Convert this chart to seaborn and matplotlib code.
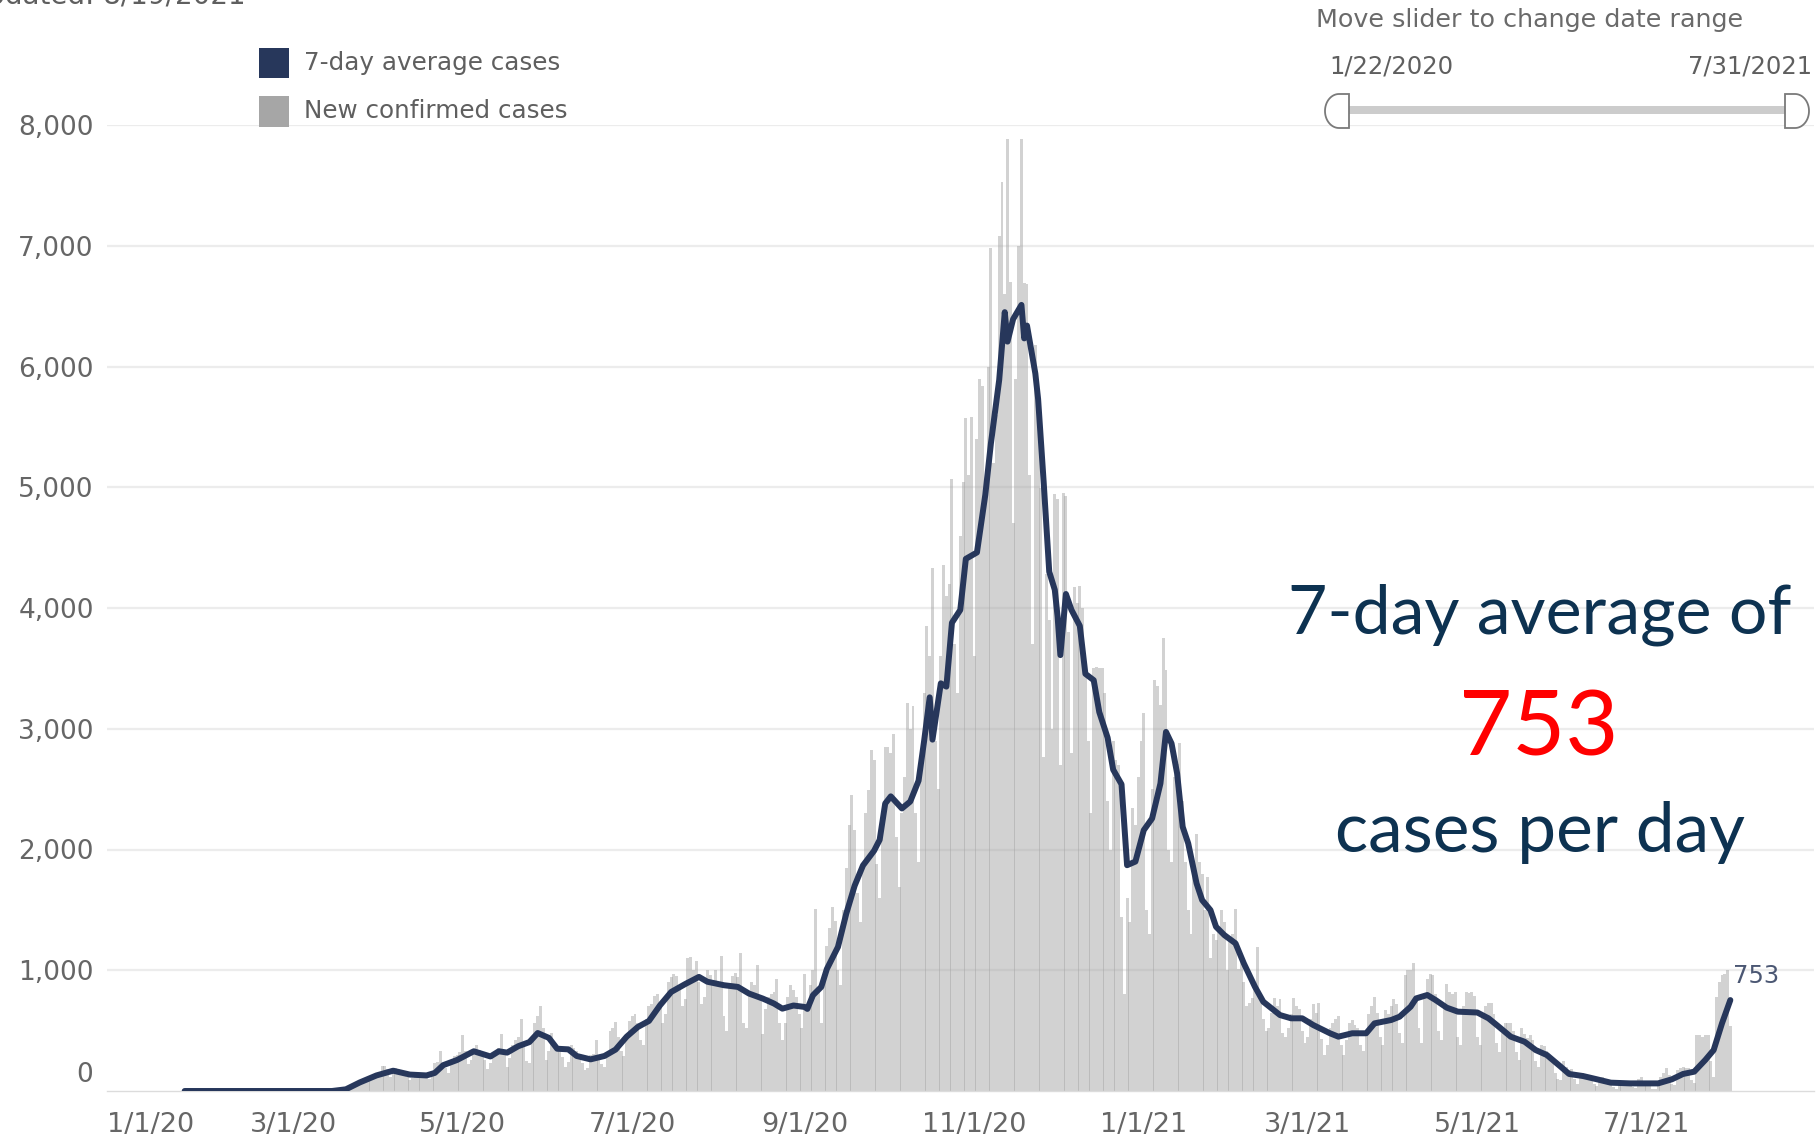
import numpy as np
import pandas as pd
import matplotlib
matplotlib.use("Agg")
import matplotlib.pyplot as plt
import matplotlib.dates as mdates
import matplotlib.patches as mpatches
from matplotlib.transforms import ScaledTranslation
import seaborn as sns

sns.set_theme(style="white")
plt.rcParams["font.family"] = ["DejaVu Sans"]

# ---------------------------------------------------------------- data
first_day = "2020-01-22"
last_day = "2021-07-31"

# New confirmed cases per day, month by month
cases_2020_01 = [0, 0, 0, 0, 0, 0, 0, 0, 0, 0]  # Jan 22-31
cases_2020_02 = [0, 0, 0, 0, 0, 0, 0, 0, 0, 0, 0, 0, 0, 0, 0,
                 0, 0, 0, 0, 0, 0, 0, 0, 0, 0, 0, 0, 0, 0]
cases_2020_03 = [0, 0, 0, 0, 0, 0, 0, 0, 0, 0, 0, 0, 0, 0, 0,
                 3, 5, 8, 15, 25, 35, 40, 55, 65, 80, 90, 105, 115, 100, 120, 140]
cases_2020_04 = [160, 210, 205, 180, 120, 150, 190, 185, 170, 140, 120, 90, 110, 140, 150,
                 135, 145, 120, 100, 160, 230, 240, 330, 210, 190, 150, 240, 290, 300, 320]
cases_2020_05 = [460, 330, 220, 260, 350, 380, 340, 300, 260, 180, 230, 300, 330, 360, 470,
                 300, 200, 270, 380, 420, 450, 600, 380, 250, 230, 420, 560, 620, 700, 520, 260]
cases_2020_06 = [330, 480, 400, 360, 330, 280, 200, 240, 380, 360, 330, 290, 230, 170, 190,
                 300, 310, 420, 300, 220, 200, 280, 500, 520, 570, 450, 330, 290, 420, 580]
cases_2020_07 = [620, 640, 560, 420, 380, 600, 700, 720, 790, 800, 700, 560, 640, 900, 940,
                 970, 950, 840, 700, 760, 1100, 1110, 1000, 1080, 900, 720, 780, 1000, 960, 920, 1000]
cases_2020_08 = [900, 1120, 620, 500, 880, 950, 980, 940, 1140, 560, 520, 820, 900, 880, 1040,
                 760, 470, 680, 780, 800, 820, 930, 560, 420, 560, 780, 880, 840, 780, 640, 520]
cases_2020_09 = [970, 720, 880, 1000, 1510, 820, 560, 900, 1200, 1350, 1520, 1410, 1000, 880, 1500,
                 1850, 2200, 2450, 2160, 1640, 1400, 1900, 2300, 2490, 2820, 2740, 1880, 1600, 2300, 2850]
cases_2020_10 = [2850, 2800, 2960, 2100, 1690, 2300, 2600, 3210, 3000, 3190, 2300, 1900, 2700, 3300, 3850,
                 3600, 4330, 2900, 2500, 3600, 4360, 4100, 4200, 5070, 3700, 3300, 4600, 5040, 5570, 5100, 5580]
cases_2020_11 = [3600, 5400, 5900, 5840, 5000, 6000, 6980, 5200, 5600, 7080, 7530, 6600, 7880, 6700, 4700,
                 5900, 7000, 7880, 6690, 6680, 5100, 3700, 6180, 5730, 4990, 2770, 4280, 3900, 3000, 4940]
cases_2020_12 = [4900, 2700, 4950, 4930, 3800, 2800, 4170, 4040, 4180, 4000, 3500, 2900, 2300, 3500, 3510,
                 3500, 3500, 3300, 2400, 2000, 2900, 2740, 2700, 1440, 800, 1600, 1400, 2340, 2200, 2600, 2900]
cases_2021_01 = [3130, 1500, 1300, 2500, 3400, 3350, 3200, 3750, 3490, 2000, 1900, 2600, 2710, 2880, 2400,
                 1900, 1500, 1300, 1800, 2130, 1900, 1800, 1500, 1770, 1100, 1300, 1250, 1340, 1500, 1400, 1000]
cases_2021_02 = [1270, 1300, 1510, 1010, 1100, 900, 700, 730, 770, 850, 1190, 770, 600, 500,
                 520, 650, 770, 700, 760, 480, 450, 520, 640, 770, 700, 680, 500, 400]
cases_2021_03 = [450, 600, 720, 650, 730, 430, 300, 380, 520, 560, 600, 620, 380, 300, 420,
                 560, 590, 550, 520, 380, 330, 500, 640, 700, 780, 650, 450, 380, 670, 640, 700]
cases_2021_04 = [760, 720, 480, 400, 960, 1000, 1000, 1060, 760, 520, 400, 800, 930, 970, 960,
                 800, 500, 420, 700, 890, 820, 800, 820, 450, 380, 700, 820, 810, 820, 790]
cases_2021_05 = [450, 380, 650, 700, 730, 730, 640, 400, 320, 480, 560, 560, 560, 500, 320,
                 260, 520, 470, 440, 460, 420, 250, 200, 380, 370, 330, 300, 280, 150, 100, 90]
cases_2021_06 = [250, 200, 170, 180, 100, 60, 130, 150, 140, 130, 120, 60, 40, 110, 120,
                 90, 80, 70, 30, 20, 90, 80, 70, 75, 70, 30, 25, 100, 120, 80]
cases_2021_07 = [80, 70, 20, 15, 40, 120, 150, 190, 130, 60, 50, 170, 190, 195, 190,
                 190, 90, 70, 460, 460, 450, 465, 460, 250, 120, 780, 900, 960, 970, 1000, 541]

# 7-day average of new cases
avg_dates = [
    "2020-01-22", "2020-03-15", "2020-03-20", "2020-03-25", "2020-03-31", "2020-04-06",
    "2020-04-12", "2020-04-18", "2020-04-21", "2020-04-24", "2020-04-29", "2020-05-05",
    "2020-05-11", "2020-05-14", "2020-05-17", "2020-05-21", "2020-05-25", "2020-05-28",
    "2020-06-01", "2020-06-04", "2020-06-08", "2020-06-11", "2020-06-16", "2020-06-21",
    "2020-06-25", "2020-06-29", "2020-07-03", "2020-07-07", "2020-07-11", "2020-07-15",
    "2020-07-20", "2020-07-25", "2020-07-28", "2020-08-03", "2020-08-08", "2020-08-12",
    "2020-08-17", "2020-08-21", "2020-08-24", "2020-08-28", "2020-09-01", "2020-09-02",
    "2020-09-04", "2020-09-07", "2020-09-09", "2020-09-13", "2020-09-16", "2020-09-19",
    "2020-09-22", "2020-09-26", "2020-09-28", "2020-09-30", "2020-10-02", "2020-10-06",
    "2020-10-09", "2020-10-12", "2020-10-14", "2020-10-16", "2020-10-17", "2020-10-20",
    "2020-10-22", "2020-10-24", "2020-10-27", "2020-10-29", "2020-11-02", "2020-11-05",
    "2020-11-07", "2020-11-10", "2020-11-12", "2020-11-13", "2020-11-15", "2020-11-18",
    "2020-11-19", "2020-11-20", "2020-11-23", "2020-11-24", "2020-11-26", "2020-11-28",
    "2020-11-30", "2020-12-01", "2020-12-02", "2020-12-04", "2020-12-06", "2020-12-09",
    "2020-12-11", "2020-12-14", "2020-12-16", "2020-12-19", "2020-12-21", "2020-12-24",
    "2020-12-26", "2020-12-29", "2021-01-01", "2021-01-04", "2021-01-07", "2021-01-09",
    "2021-01-11", "2021-01-13", "2021-01-15", "2021-01-17", "2021-01-20", "2021-01-22",
    "2021-01-25", "2021-01-27", "2021-01-30", "2021-02-03", "2021-02-06", "2021-02-10",
    "2021-02-13", "2021-02-19", "2021-02-23", "2021-02-27", "2021-03-03", "2021-03-09",
    "2021-03-12", "2021-03-17", "2021-03-22", "2021-03-25", "2021-03-31", "2021-04-03",
    "2021-04-07", "2021-04-09", "2021-04-13", "2021-04-16", "2021-04-20", "2021-04-24",
    "2021-05-01", "2021-05-05", "2021-05-08", "2021-05-13", "2021-05-18", "2021-05-22",
    "2021-05-26", "2021-05-31", "2021-06-03", "2021-06-08", "2021-06-13", "2021-06-18",
    "2021-06-25", "2021-07-05", "2021-07-10", "2021-07-14", "2021-07-18", "2021-07-22",
    "2021-07-25", "2021-07-28", "2021-07-31",
]
avg_values = [
    0, 0, 14, 71, 129, 168,
    136, 129, 150, 214, 257, 329,
    286, 329, 318, 371, 405, 480,
    440, 350, 345, 290, 262, 290,
    343, 450, 530, 580, 710, 820,
    885, 945, 905, 876, 862, 807,
    765, 724, 682, 708, 696, 680,
    793, 862, 1010, 1193, 1470, 1700,
    1868, 1990, 2080, 2381, 2440, 2340,
    2397, 2570, 2900, 3260, 2910, 3376,
    3349, 3878, 3984, 4407, 4460, 4937,
    5360, 5889, 6450, 6206, 6392, 6510,
    6233, 6339, 5942, 5730, 5042, 4300,
    4150, 3930, 3610, 4116, 3984, 3852,
    3455, 3402, 3138, 2926, 2661, 2540,
    1870, 1900, 2160, 2257, 2547, 2974,
    2878, 2630, 2188, 2050, 1719, 1581,
    1498, 1360, 1291, 1223, 1057, 863,
    739, 629, 602, 602, 546, 478,
    450, 478, 478, 560, 588, 615,
    698, 767, 795, 753, 690, 657,
    650, 602, 546, 450, 408, 339,
    298, 201, 141, 124, 97, 69,
    63, 63, 97, 141, 160, 257,
    339, 560, 753,
]

tick_dates = ["2020-01-01", "2020-03-01", "2020-05-01", "2020-07-01", "2020-09-01",
              "2020-11-01", "2021-01-01", "2021-03-01", "2021-05-01", "2021-07-01"]
tick_labels = ["1/1/20", "3/1/20", "5/1/20", "7/1/20", "9/1/20",
               "11/1/20", "1/1/21", "3/1/21", "5/1/21", "7/1/21"]
y_ticks = [1000, 2000, 3000, 4000, 5000, 6000, 7000, 8000]
y_tick_labels = ["1,000", "2,000", "3,000", "4,000", "5,000", "6,000", "7,000", "8,000"]

series_names = ["7-day average cases", "New confirmed cases"]
updated_text = "Updated: 8/19/2021"
slider_title = "Move slider to change date range"

# ---------------------------------------------------------------- styles
LINE_COLOR = "#27375b"
BAR_COLOR = "#a6a6a6"
GRID_COLOR = "#ececec"
LABEL_COLOR = "#666666"
NAVY_TEXT = "#0d3251"
RED_TEXT = "#ff0000"

new_cases = (cases_2020_01 + cases_2020_02 + cases_2020_03 + cases_2020_04 + cases_2020_05
             + cases_2020_06 + cases_2020_07 + cases_2020_08 + cases_2020_09 + cases_2020_10
             + cases_2020_11 + cases_2020_12 + cases_2021_01 + cases_2021_02 + cases_2021_03
             + cases_2021_04 + cases_2021_05 + cases_2021_06 + cases_2021_07)
days = pd.date_range(first_day, last_day, freq="D")
daily = pd.DataFrame({"date": days, "cases": new_cases})
avg = pd.DataFrame({"date": pd.to_datetime(avg_dates), "avg": avg_values})

W, H = 1820, 1142
fig = plt.figure(figsize=(W / 100, H / 100), dpi=100)
fig.patch.set_facecolor("white")

# plot area in pixel terms
px_left, px_right, px_top, px_bottom = 107, 1814, 125, 1091
ax = fig.add_axes([px_left / W, 1 - px_bottom / H,
                   (px_right - px_left) / W, (px_bottom - px_top) / H])
ax.set_facecolor("white")

# daily bars (semi-transparent, slightly overlapping columns)
ax.bar(mdates.date2num(daily["date"]), daily["cases"], width=1.057, color=BAR_COLOR,
       alpha=0.5, linewidth=0, antialiased=False, zorder=2)

# 7-day average line
sns.lineplot(data=avg, x="date", y="avg", ax=ax, color=LINE_COLOR, linewidth=4.3,
             solid_capstyle="round", solid_joinstyle="round", zorder=4, legend=False)

# axes ranges: 2.78 px per day, 1/1/20 sits 19 px right of the plot edge
day0 = mdates.date2num(pd.Timestamp("2020-01-01"))
ax.set_xlim(day0 - 6.94, day0 + 607.1)
ax.set_ylim(0, 8000)

ax.set_xticks(mdates.date2num(pd.to_datetime(tick_dates)))
ax.set_xticklabels(tick_labels)
ax.set_yticks(y_ticks)
ax.set_yticklabels(y_tick_labels)
ax.set_xlabel("")
ax.set_ylabel("")
ax.tick_params(axis="both", length=0, labelcolor=LABEL_COLOR)
ax.tick_params(axis="x", pad=15, labelsize=19.5)
ax.tick_params(axis="y", pad=9.5, labelsize=19)

ax.yaxis.grid(True, color=GRID_COLOR, linewidth=1.6)
ax.xaxis.grid(False)
ax.set_axisbelow(True)
for side in ("top", "right", "left"):
    ax.spines[side].set_visible(False)
ax.spines["bottom"].set_color("#dcdcdc")
ax.spines["bottom"].set_linewidth(1.0)

# first date label kept inside the plot area
first_lab = ax.get_xticklabels()[0]
first_lab.set_horizontalalignment("left")
first_lab.set_transform(first_lab.get_transform()
                        + ScaledTranslation(-19 / 100, 0, fig.dpi_scale_trans))

# zero label sits a little above the baseline
ax.annotate("0", xy=(0, 0), xycoords=ax.get_yaxis_transform(), xytext=(-14, 16),
            textcoords="offset pixels", ha="right", va="center", fontsize=19,
            color=LABEL_COLOR)

# value label at the end of the average line
last_avg = avg_values[-1]
ax.annotate(f"{last_avg:,}", xy=(mdates.date2num(pd.Timestamp(avg_dates[-1])), last_avg),
            xytext=(3, 17), textcoords="offset pixels", ha="left", va="baseline",
            fontsize=17.5, color="#4b5773", zorder=6)

# ---------------------------------------------------------------- overlay (pixel space)
ov = fig.add_axes([0, 0, 1, 1], zorder=10)
ov.set_xlim(0, W)
ov.set_ylim(H, 0)
ov.axis("off")
ov.patch.set_alpha(0)

# legend
ov.add_patch(mpatches.Rectangle((259, 48), 30, 30, facecolor=LINE_COLOR, edgecolor="none"))
ov.add_patch(mpatches.Rectangle((259, 96), 30, 31, facecolor=BAR_COLOR, edgecolor="none"))
ov.text(304, 63, series_names[0], ha="left", va="center", fontsize=17.7, color="#5f5f5f")
ov.text(304, 111, series_names[1], ha="left", va="center", fontsize=17.7, color="#5f5f5f")

# update stamp, partly off the top and left edges
ov.text(246, 4, updated_text, ha="right", va="baseline", fontsize=20, color="#5f5f5f")

# date-range slider
ov.text(1316, 27, slider_title, ha="left", va="baseline", fontsize=18.3, color="#6a6a6a")
ov.text(1329, 73, days[0].strftime("%-m/%-d/%Y"), ha="left", va="baseline",
        fontsize=17.5, color="#5f5f5f")
ov.text(1812, 73, days[-1].strftime("%-m/%-d/%Y"), ha="right", va="baseline",
        fontsize=17.5, color="#5f5f5f")
ov.add_patch(mpatches.Rectangle((1349, 106), 1785 - 1349, 8, facecolor="#cccccc",
                                edgecolor="none"))


def slider_handle(flat_x, direction):
    top, bot, mid = 94, 128, 111
    cx = flat_x + direction * 10
    t = np.linspace(np.pi / 2, -np.pi / 2, 40)
    arc = np.column_stack([cx + direction * 14 * np.cos(t), mid - 17 * np.sin(t)])
    pts = np.vstack([[flat_x, top], arc, [flat_x, bot]])
    return mpatches.Polygon(pts, closed=True, facecolor="white", edgecolor="#7a7a7a",
                            linewidth=1.3)


ov.add_patch(slider_handle(1349, -1))
ov.add_patch(slider_handle(1785, 1))

# headline callout
callout_font = ["Lato", "DejaVu Sans"]
ov.text(1540, 633, "7-day average of", ha="center", va="baseline", fontsize=49,
        color=NAVY_TEXT, family=callout_font)
ov.text(1539, 755, f"{last_avg:,}", ha="center", va="baseline", fontsize=66,
        color=RED_TEXT, family=callout_font)
ov.text(1540, 852, "cases per day", ha="center", va="baseline", fontsize=50,
        color=NAVY_TEXT, family=callout_font)

fig.savefig("out.png", dpi=100, facecolor="white")
